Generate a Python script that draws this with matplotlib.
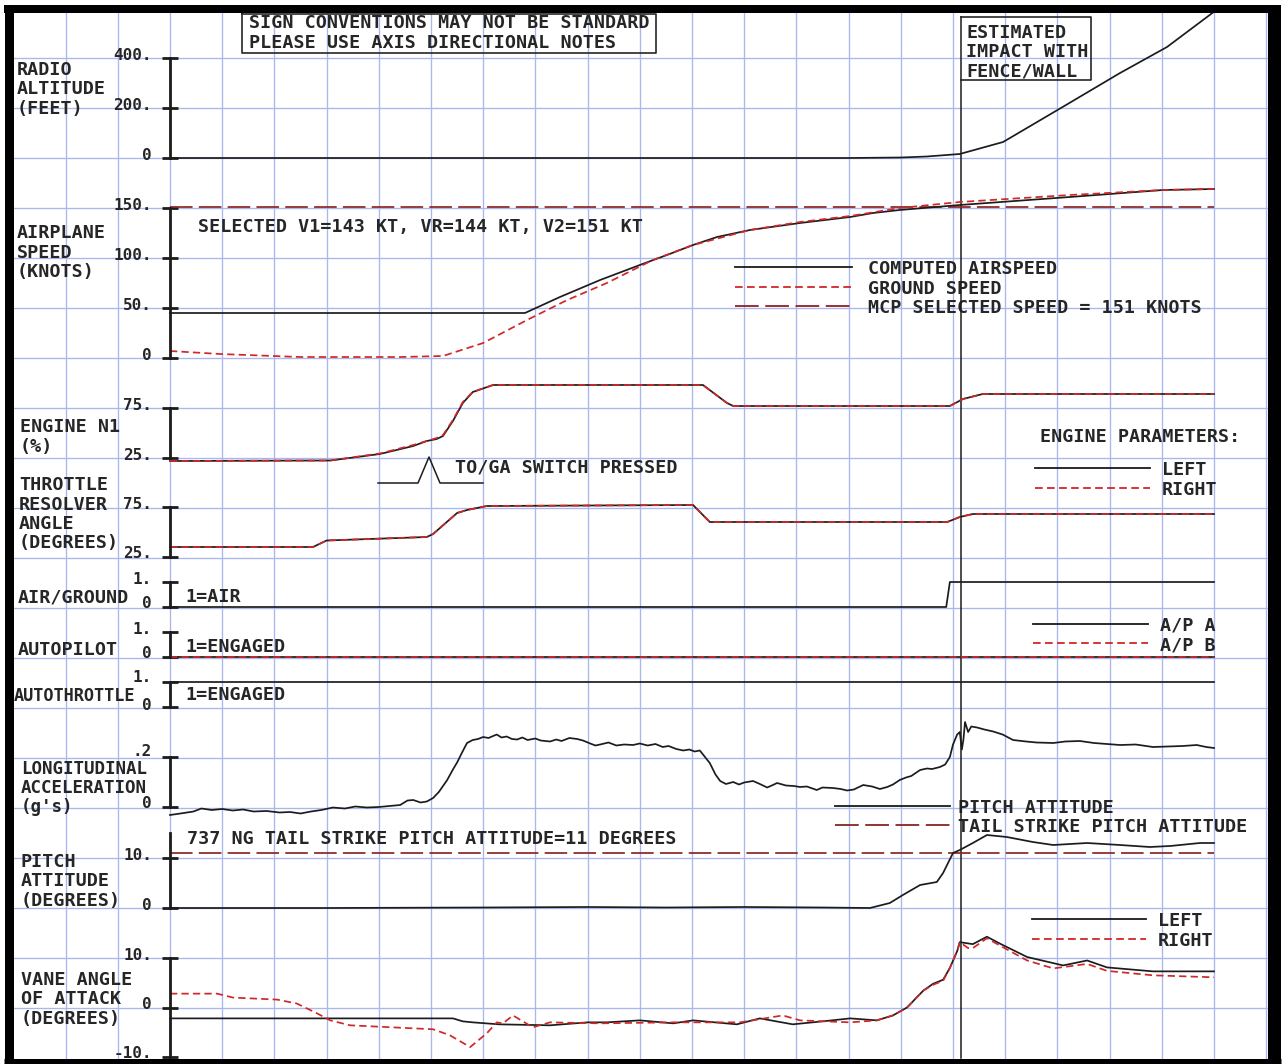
import matplotlib
matplotlib.use("Agg")
import matplotlib.pyplot as plt
from matplotlib.transforms import ScaledTranslation

# ---------------- data (time in chart divisions, 0..20) ----------------
time_end = 20.0
impact_time = 15.15

ralt_t = [0, 13.0, 14.0, 14.5, 15.13, 15.96, 17.1, 18.2, 19.1, 20.0]
ralt_ft = [0, 0, 2, 6, 16, 64, 204, 340, 444, 585]

cas_t = [0, 6.80, 7.47, 8.24, 9.00, 9.52, 10.02, 10.48, 11.11, 12.07, 13.03, 13.47, 13.98, 15.13, 17.24, 19.02, 20.0]
cas_kt = [45, 45, 61, 78, 93, 103, 113, 121, 128, 135, 141, 145, 148, 153, 161, 168, 169]

gs_t = [0, 0.96, 2.49, 4.41, 5.23, 6.00, 6.84, 7.61, 8.37, 9.25, 10.02, 11.11, 12.07, 13.03, 13.98, 15.13, 17.24, 19.02, 20.0]
gs_kt = [7, 4, 1, 1, 2, 15, 38, 58, 75, 98, 113, 128, 136, 142, 150, 156, 163, 168, 169]

mcp_speed = 151

n1_t = [0, 3.07, 4.02, 4.66, 4.92, 5.11, 5.23, 5.42, 5.61, 5.80, 6.19, 10.21, 10.67, 10.79, 14.94, 15.19, 15.57, 20.0]
n1_left = [22, 22.5, 29, 37, 42, 44, 47, 62, 80, 91, 98, 98, 80, 77, 77, 84, 89, 89]
n1_right = [22, 22.5, 29.5, 38, 42, 45, 48, 63, 81, 91, 98, 98, 80, 77, 77, 84, 89, 89]

tra_t = [0, 2.74, 3.0, 4.92, 5.04, 5.50, 5.69, 6.07, 10.02, 10.34, 14.89, 15.13, 15.38, 20.0]
tra_left = [35, 35, 41.5, 45, 48, 69, 72, 76, 77, 60, 60, 65, 68, 68]
tra_right = [35, 35, 41.5, 45, 48, 69, 72, 76, 77, 60, 60, 65, 68, 68]

air_ground_t = [0, 14.87, 14.94, 20.0]
air_ground = [0, 0, 1, 1]

ap_t = [0, 20.0]
ap_a = [0, 0]
ap_b = [0, 0]
autothrottle_t = [0, 20.0]
autothrottle = [1, 1]

accel_t = [0.0, 0.2, 0.45, 0.6, 0.8, 1.0, 1.2, 1.4, 1.6, 1.85, 2.1, 2.3, 2.5, 2.7, 2.9, 3.12, 3.35,
           3.55, 3.77, 4.0, 4.2, 4.41, 4.55, 4.66, 4.8, 4.92, 5.04, 5.15, 5.31, 5.42, 5.50, 5.6, 5.69,
           5.8, 5.9, 6.0, 6.1, 6.26, 6.35, 6.45, 6.55, 6.65, 6.75, 6.85, 7.0, 7.1, 7.28, 7.4, 7.5,
           7.65, 7.8, 7.91, 8.05, 8.15, 8.24, 8.4, 8.55, 8.7, 8.87, 9.0, 9.15, 9.3, 9.44, 9.55, 9.7,
           9.83, 9.95, 10.05, 10.15, 10.25, 10.34, 10.45, 10.54, 10.65, 10.79, 10.9, 11.0, 11.17,
           11.3, 11.44, 11.55, 11.63, 11.8, 11.95, 12.07, 12.2, 12.39, 12.5, 12.7, 12.85, 12.97,
           13.1, 13.28, 13.45, 13.6, 13.74, 13.85, 13.98, 14.1, 14.2, 14.37, 14.5, 14.6, 14.75,
           14.85, 14.94, 15.0, 15.08, 15.13, 15.17, 15.2, 15.23, 15.29, 15.35, 15.46, 15.6, 15.77,
           15.95, 16.15, 16.4, 16.6, 16.92, 17.15, 17.43, 17.7, 17.95, 18.2, 18.5, 18.83, 19.1,
           19.4, 19.67, 19.85, 20.0]
accel_g = [-0.032, -0.026, -0.018, -0.006, -0.012, -0.008, -0.014, -0.010, -0.018, -0.016, -0.022,
           -0.020, -0.026, -0.018, -0.012, -0.002, -0.006, 0.002, -0.002, 0.0, 0.004, 0.008, 0.026,
           0.028, 0.018, 0.022, 0.036, 0.06, 0.108, 0.15, 0.178, 0.22, 0.256, 0.268, 0.272, 0.28,
           0.276, 0.29, 0.278, 0.282, 0.272, 0.27, 0.278, 0.268, 0.274, 0.266, 0.262, 0.27, 0.264,
           0.276, 0.272, 0.266, 0.254, 0.246, 0.25, 0.258, 0.246, 0.25, 0.248, 0.254, 0.246, 0.252,
           0.24, 0.244, 0.232, 0.226, 0.23, 0.222, 0.226, 0.2, 0.176, 0.13, 0.104, 0.092, 0.1, 0.09,
           0.098, 0.104, 0.092, 0.078, 0.088, 0.096, 0.086, 0.084, 0.08, 0.082, 0.068, 0.078, 0.076,
           0.072, 0.066, 0.07, 0.088, 0.082, 0.072, 0.08, 0.09, 0.108, 0.118, 0.124, 0.148, 0.154,
           0.152, 0.16, 0.17, 0.2, 0.25, 0.29, 0.3, 0.23, 0.27, 0.34, 0.3, 0.322, 0.318, 0.31, 0.302,
           0.29, 0.268, 0.262, 0.258, 0.256, 0.262, 0.264, 0.256, 0.252, 0.248, 0.25, 0.24, 0.242,
           0.244, 0.248, 0.24, 0.236]

pitch_t = [0, 3.0, 6.0, 8.0, 9.5, 11.0, 12.5, 13.41, 13.79, 14.04, 14.37, 14.69, 14.81, 15.00, 15.13,
           15.38, 15.65, 16.03, 16.53, 16.92, 17.57, 18.20, 18.77, 19.16, 19.73, 20.0]
pitch_deg = [0, 0, 0.1, 0.2, 0.1, 0.2, 0.1, 0, 1, 2.6, 4.6, 5.2, 7, 11, 11.6, 13, 14.6, 14.2, 13.2,
             12.6, 13, 12.6, 12.2, 12.4, 13, 13]
tail_strike_deg = 11

aoa_left_t = [0, 5.42, 5.61, 5.80, 6.3, 7.28, 8.0, 8.37, 9.0, 9.64, 10.02, 10.86, 11.30, 11.93, 12.5,
              13.03, 13.54, 13.85, 14.12, 14.43, 14.62, 14.81, 14.94, 15.08, 15.13, 15.38, 15.65,
              15.90, 16.42, 17.11, 17.57, 17.95, 18.83, 20.0]
aoa_left = [-2.2, -2.2, -2.8, -3.0, -3.4, -3.6, -3.0, -3.0, -2.6, -3.2, -2.6, -3.4, -2.2, -3.4, -2.8,
            -2.2, -2.6, -1.6, 0.0, 3.4, 4.8, 5.6, 8.0, 11.4, 13.2, 12.8, 14.3, 12.9, 10.2, 8.5, 9.5,
            8.1, 7.3, 7.3]
aoa_right_t = [0, 0.90, 1.21, 2.05, 2.43, 2.82, 3.07, 3.45, 5.04, 5.36, 5.75, 6.07, 6.26, 6.38, 6.57,
               6.95, 7.28, 8.24, 9.64, 10.92, 11.74, 12.07, 13.03, 13.54, 13.85, 14.12, 14.43, 14.62,
               14.81, 14.94, 15.08, 15.13, 15.29, 15.38, 15.65, 15.90, 16.42, 16.92, 17.57, 17.95,
               18.83, 20.0]
aoa_right = [2.8, 2.8, 2.0, 1.6, 0.8, -1.2, -2.6, -3.6, -4.4, -5.6, -8.0, -5.2, -3.0, -3.2, -1.6,
             -4.0, -3.0, -3.2, -3.0, -3.0, -1.6, -2.6, -3.0, -2.6, -1.6, 0.0, 3.4, 4.6, 5.4, 8.0,
             11.4, 13.2, 12.0, 12.0, 14.0, 12.5, 9.5, 7.9, 8.8, 7.4, 6.5, 6.1]

# ---------------- styling ----------------
W, H = 1287, 1064
FONT = "DejaVu Sans Mono"
plt.rcParams["font.family"] = [FONT]
plt.rcParams["font.weight"] = "bold"
BLACK = "#1c1c1c"
RED = "#d02828"
DARKRED = "#8b2525"
GRID = "#a9b7ee"
TEXT = "#262626"
LW = 1.25
FS = 13.2
X0, X1 = 170, 1214   # pixel columns of t=0 and t=time_end
PX_PER_T = (X1 - X0) / time_end

fig = plt.figure(figsize=(W / 100, H / 100), dpi=100)
bg = fig.add_axes([0, 0, 1, 1])
bg.set_xlim(0, W)
bg.set_ylim(H, 0)
bg.axis("off")

# grid paper
for k in range(-2, 22):
    x = X0 + k * PX_PER_T
    if 12 < x < 1268:
        bg.plot([x, x], [8, 1060], color=GRID, lw=0.95, zorder=0)
for k in range(0, 21):
    y = 8 + 50 * k
    bg.plot([8, 1270], [y, y], color=GRID, lw=0.95, zorder=0)


def txt(x, y, s, size=FS, ax=bg, **kw):
    ax.text(x, y + 6, s, fontsize=size, fontweight="bold", color=TEXT,
            va="baseline", ha="left", family=[FONT], **kw)


def lines_txt(x, y, lines, dy=19.5, size=FS):
    for i, s in enumerate(lines):
        txt(x, y + i * dy, s, size=size)


# left labels
lines_txt(17, 69, ["RADIO", "ALTITUDE", "(FEET)"])
lines_txt(17, 232, ["AIRPLANE", "SPEED", "(KNOTS)"])
lines_txt(20, 426, ["ENGINE N1", "(%)"])
lines_txt(19, 484, ["THROTTLE", "RESOLVER", "ANGLE", "(DEGREES)"])
txt(18, 596, "AIR/GROUND")
txt(18, 649, "AUTOPILOT")
txt(14, 695, "AUTOTHROTTLE", size=12.2)
lines_txt(21, 768, ["LONGITUDINAL", "ACCELERATION", "(g's)"], dy=19.2, size=12.6)
lines_txt(21, 861, ["PITCH", "ATTITUDE", "(DEGREES)"])
lines_txt(21, 979, ["VANE ANGLE", "OF ATTACK", "(DEGREES)"])

# annotations
txt(249, 22, "SIGN CONVENTIONS MAY NOT BE STANDARD")
txt(249, 42, "PLEASE USE AXIS DIRECTIONAL NOTES")
bg.plot([242, 656, 656, 242, 242], [14, 14, 53, 53, 14], color=TEXT, lw=1.2)
txt(198, 226, "SELECTED V1=143 KT, VR=144 KT, V2=151 KT")
txt(455, 466, "TO/GA SWITCH PRESSED")
bg.plot([378, 418, 429, 440, 483], [483, 483, 457, 483, 483], color=BLACK, lw=1.1)
txt(185, 596, "1=AIR")
txt(185, 646, "1=ENGAGED")
txt(185, 694, "1=ENGAGED")
txt(187, 838, "737 NG TAIL STRIKE PITCH ATTITUDE=11 DEGREES")

# legends
def leg(x0, x1, y, style, label_x, label):
    color, ls = style
    bg.plot([x0, x1], [y, y], color=color, lw=LW * 1.05, dashes=ls if ls else (None, None))
    txt(label_x, y + 1, label)

SOLID = (BLACK, None)
DASH = (RED, (4.2, 2.4))
LONG = (DARKRED, (13, 3.6))
leg(735, 852, 267, SOLID, 868, "COMPUTED AIRSPEED")
leg(735, 852, 287, DASH, 868, "GROUND SPEED")
leg(735, 852, 306, LONG, 868, "MCP SELECTED SPEED = 151 KNOTS")
txt(1040, 436, "ENGINE PARAMETERS:")
leg(1035, 1150, 468, SOLID, 1162, "LEFT")
leg(1035, 1150, 488, DASH, 1162, "RIGHT")
leg(1033, 1148, 624, SOLID, 1160, "A/P A")
leg(1033, 1148, 643, DASH, 1160, "A/P B")
leg(835, 950, 806, SOLID, 958, "PITCH ATTITUDE")
leg(835, 950, 825, LONG, 958, "TAIL STRIKE PITCH ATTITUDE")
leg(1032, 1146, 919, SOLID, 1158, "LEFT")
leg(1032, 1146, 939, DASH, 1158, "RIGHT")

# impact marker
xi = X0 + impact_time * PX_PER_T
bg.plot([xi, xi], [17, 1058], color=BLACK, lw=1.1, zorder=5)
bg.plot([xi, 1091, 1091, xi], [17, 17, 80, 80], color=TEXT, lw=1.2)
txt(966, 32, "ESTIMATED")
txt(966, 51, "IMPACT WITH")
txt(966, 70, "FENCE/WALL")

# ---------------- strips ----------------
def lift(px):
    return ScaledTranslation(0, px / 100, fig.dpi_scale_trans)


def strip(v_lo, y_lo, v_hi, y_hi, ticks, labels, bounds=None, extra_lift=None):
    ax = fig.add_axes([X0 / W, 1 - y_lo / H, (X1 - X0) / W, (y_lo - y_hi) / H])
    ax.set_xlim(0, time_end)
    ax.set_ylim(v_lo, v_hi)
    ax.patch.set_visible(False)
    for s in ["top", "right", "bottom"]:
        ax.spines[s].set_visible(False)
    ax.spines["left"].set_linewidth(2.0)
    ax.spines["left"].set_color(BLACK)
    ax.spines["left"].set_bounds(*(bounds or (v_lo, v_hi)))
    ax.set_xticks([])
    ax.set_yticks(ticks)
    ax.set_yticklabels(labels)
    ax.tick_params(axis="y", direction="inout", length=12, width=2.0, pad=7,
                   labelsize=11.5, colors=BLACK, labelcolor=TEXT)
    extra_lift = extra_lift or [0] * len(ticks)
    for lab, e in zip(ax.get_yticklabels(), extra_lift):
        lab.set_fontweight("bold")
        lab.set_transform(lab.get_transform() + lift(4.5 + e))
    return ax


def trace(ax, t, v, style):
    color, ls = style
    kw = dict(color=color, lw=LW, clip_on=False)
    if ls:
        kw["dashes"] = ls
    ax.plot(t, v, **kw)


ax = strip(0, 158, 400, 58, [0, 200, 400], ["0", "200.", "400."])
trace(ax, ralt_t, ralt_ft, SOLID)

ax = strip(0, 358, 150, 208, [0, 50, 100, 150], ["0", "50.", "100.", "150."])
trace(ax, [0, time_end], [mcp_speed, mcp_speed], LONG)
trace(ax, cas_t, cas_kt, SOLID)
trace(ax, gs_t, gs_kt, DASH)

ax = strip(25, 458, 75, 408, [25, 75], ["25.", "75."])
trace(ax, n1_t, n1_left, SOLID)
trace(ax, n1_t, n1_right, DASH)

ax = strip(25, 557, 75, 507, [25, 75], ["25.", "75."])
trace(ax, tra_t, tra_left, SOLID)
trace(ax, tra_t, tra_right, DASH)

ax = strip(0, 607, 1, 582, [0, 1], ["0", "1."])
trace(ax, air_ground_t, air_ground, SOLID)

ax = strip(0, 657, 1, 632, [0, 1], ["0", "1."])
trace(ax, ap_t, ap_a, SOLID)
trace(ax, ap_t, ap_b, DASH)

ax = strip(0, 707, 1, 682, [0, 1], ["0", "1."], extra_lift=[-2, 2])
trace(ax, autothrottle_t, autothrottle, SOLID)

ax = strip(0, 807, 0.2, 757, [0, 0.2], ["0", ".2"], extra_lift=[0, 3])
trace(ax, accel_t, accel_g, SOLID)

ax = strip(0, 908, 10, 858, [0, 10], ["0", "10."], bounds=(0, 15))
trace(ax, [0, time_end], [tail_strike_deg, tail_strike_deg], LONG)
trace(ax, pitch_t, pitch_deg, SOLID)

ax = strip(-10, 1057, 10, 958, [-10, 0, 10], ["-10.", "0", "10."])
trace(ax, aoa_left_t, aoa_left, SOLID)
trace(ax, aoa_right_t, aoa_right, DASH)

# ---------------- frame ----------------
ov = fig.add_axes([0, 0, 1, 1])
ov.set_xlim(0, W)
ov.set_ylim(H, 0)
ov.axis("off")
ov.patch.set_visible(False)
ov.plot([8.5, 8.5], [5, 1064], color="black", lw=9 / 1.389, solid_capstyle="butt")
ov.plot([4, 1281], [9, 9], color="black", lw=8 / 1.389, solid_capstyle="butt")
ov.plot([1274, 1274], [5, 1064], color="black", lw=13 / 1.389, solid_capstyle="butt")
ov.plot([4, 1281], [1061.5, 1061.5], color="black", lw=7 / 1.389, solid_capstyle="butt")

fig.savefig("out.png", dpi=100, facecolor="white")
